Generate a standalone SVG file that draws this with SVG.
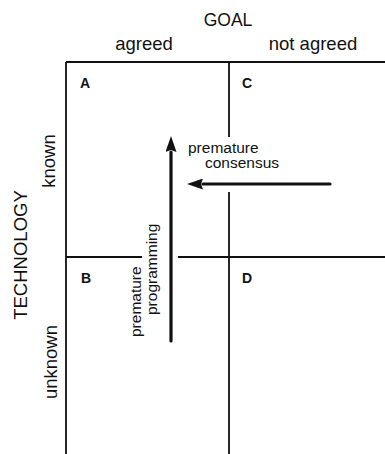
<svg xmlns="http://www.w3.org/2000/svg" width="385" height="454" viewBox="0 0 385 454">
<defs>
<style>
text{font-family:"Liberation Sans",Arial,sans-serif;fill:#111}
.ax{font-size:18.5px}
.hd{font-size:17.5px}
.lb{font-size:15.5px}
.q{font-size:14px;font-weight:bold}
.frame{stroke:#111;stroke-width:1.8;fill:none}
.arr{stroke:#111;stroke-width:3.2;fill:none;stroke-linecap:round}
</style>
<marker id="head" markerUnits="userSpaceOnUse" markerWidth="16" markerHeight="11" viewBox="0 0 16 11" refX="0" refY="5.5" orient="auto">
<path d="M0,0 L16,5.5 L0,11 L2,5.5 z" fill="#111"/>
</marker>
</defs>
<rect width="385" height="454" fill="#fff"/>
<g id="axis-labels">
<text class="hd" x="228" y="26" text-anchor="middle">GOAL</text>
<text class="ax" x="144" y="50" text-anchor="middle">agreed</text>
<text class="ax" x="313" y="50" text-anchor="middle">not agreed</text>
<text class="ax" transform="translate(27,255) rotate(-90)" text-anchor="middle">TECHNOLOGY</text>
<text class="ax" transform="translate(55,161) rotate(-90)" text-anchor="middle">known</text>
<text class="ax" transform="translate(57,362) rotate(-90)" text-anchor="middle">unknown</text>
</g>
<g id="grid">
<path class="frame" d="M66,62 H385 M66,62 V454 M229,62 V137 M229,192 V454 M66,257 H142 M178,257 H385"/>
</g>
<g id="cell-A"><text class="q" x="80" y="88">A</text></g>
<g id="cell-B"><text class="q" x="81" y="283">B</text></g>
<g id="cell-C"><text class="q" x="242" y="88">C</text></g>
<g id="cell-D"><text class="q" x="242" y="283">D</text></g>
<g id="connectors">
<line class="arr" x1="330" y1="184" x2="203" y2="184" marker-end="url(#head)"/>
<line class="arr" x1="171" y1="341" x2="171" y2="152" marker-end="url(#head)"/>
</g>
<g id="label-consensus">
<text class="lb" x="188" y="153">premature</text>
<text class="lb" x="205" y="168">consensus</text>
</g>
<g id="label-programming">
<text class="lb" transform="translate(141,337) rotate(-90)">premature</text>
<text class="lb" transform="translate(157,315) rotate(-90)">programming</text>
</g>
</svg>
